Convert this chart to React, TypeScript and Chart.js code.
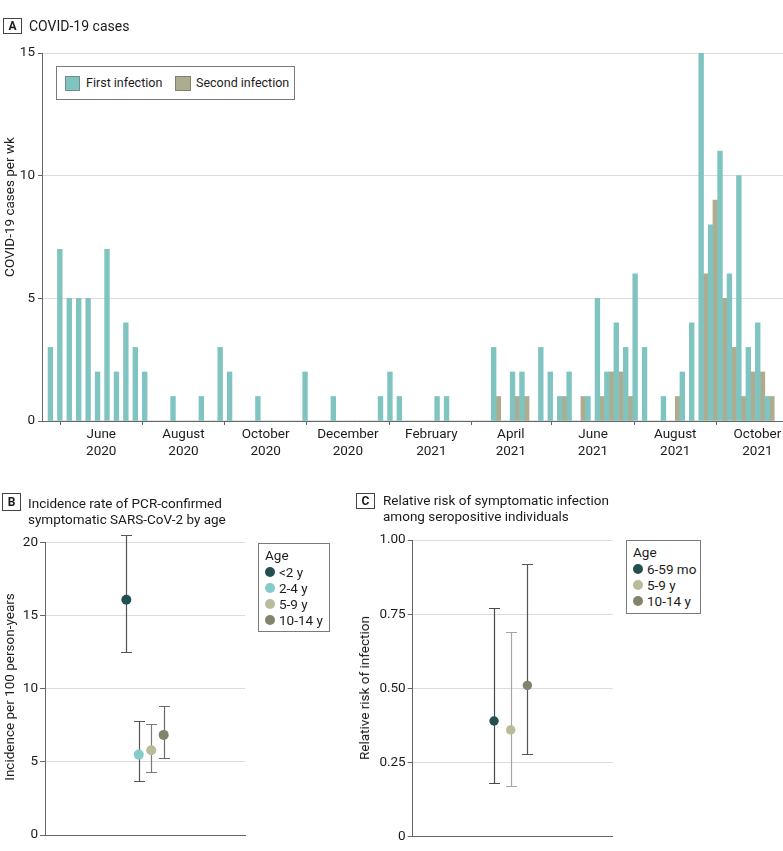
import React, { useEffect, useRef } from 'react';
import { Chart, registerables } from 'chart.js';

Chart.register(...registerables);

// ---------- Panel A data ----------
const firstWeekCenter = '2020-04-26';
const firstInfection = [
  3, 7, 5, 5, 5, 2, 7, 2, 4, 3,
  2, 0, 0, 1, 0, 0, 1, 0, 3, 2,
  0, 0, 1, 0, 0, 0, 0, 2, 0, 0,
  1, 0, 0, 0, 0, 1, 2, 1, 0, 0,
  0, 1, 1, 0, 0, 0, 0, 3, 0, 2,
  2, 0, 3, 2, 1, 2, 0, 1, 5, 2,
  4, 3, 6, 3, 0, 1, 0, 2, 4, 15,
  8, 11, 6, 10, 3, 4, 1,
];
const secondInfection = [
  0, 0, 0, 0, 0, 0, 0, 0, 0, 0,
  0, 0, 0, 0, 0, 0, 0, 0, 0, 0,
  0, 0, 0, 0, 0, 0, 0, 0, 0, 0,
  0, 0, 0, 0, 0, 0, 0, 0, 0, 0,
  0, 0, 0, 0, 0, 0, 0, 1, 0, 1,
  1, 0, 0, 0, 1, 0, 1, 0, 1, 2,
  2, 1, 0, 0, 0, 0, 1, 0, 0, 6,
  9, 5, 3, 1, 2, 2, 1,
];
const monthTickDates = ['2020-06-01', '2020-08-01', '2020-10-01', '2020-12-01', '2021-02-01', '2021-04-01', '2021-06-01', '2021-08-01', '2021-10-01'];
const monthLabels = ['June', 'August', 'October', 'December', 'February', 'April', 'June', 'August', 'October'];
const yearLabels = ['2020', '2020', '2020', '2020', '2021', '2021', '2021', '2021', '2021'];
const axisStartDate = '2020-04-18';
const axisEndDate = '2021-10-20';
const yTicksA = [0, 5, 10, 15];

// ---------- Panel B data ----------
const ageGroupsB = ['<2 y', '2-4 y', '5-9 y', '10-14 y'];
const incidence = [16.1, 5.5, 5.8, 6.85];
const incidenceLow = [12.5, 3.7, 4.3, 5.3];
const incidenceHigh = [20.5, 7.8, 7.6, 8.85];
const yTicksB = [0, 5, 10, 15, 20];

// ---------- Panel C data ----------
const ageGroupsC = ['6-59 mo', '5-9 y', '10-14 y'];
const relRisk = [0.39, 0.36, 0.51];
const relRiskLow = [0.18, 0.17, 0.28];
const relRiskHigh = [0.77, 0.69, 0.92];
const yTicksC = [0, 0.25, 0.5, 0.75, 1];

// ---------- styles ----------
const FONT = 'Roboto, "Liberation Sans", Arial, sans-serif';
const TEAL = '#80c4c2';
const TAN = '#aeac8f';
const AXIS = '#666666';
const GRID = '#dcdcdc';
const TXT = '#1c1c1c';
const colorsB = ['#234f50', '#84cbca', '#bbbb9c', '#83836d'];
const errColorsB = ['#555555', '#555555', '#7a7a7a', '#6a6a6a'];
const colorsC = ['#234f50', '#bbbb9c', '#83836d'];
const errColorsC = ['#4a4a4a', '#a6a6a6', '#555555'];

const DAY = 86400000;
const dayOf = (iso: string) => (Date.parse(iso) - Date.parse('2020-01-01')) / DAY;
const weekDays = firstInfection.map((_, i) => dayOf(firstWeekCenter) + 7 * i);

const errorBarPlugin = {
  id: 'errorBars',
  beforeDatasetsDraw(chart: any) {
    const p = chart.config.options.errorBarsCfg;
    if (!p) return;
    const { ctx } = chart;
    const y = chart.scales.y;
    const meta = chart.getDatasetMeta(0);
    ctx.save();
    ctx.lineWidth = 1.2;
    p.low.forEach((lo: number, i: number) => {
      const px = Math.round(meta.data[i].x) + 0.5;
      const y1 = Math.round(y.getPixelForValue(lo)) + 0.5;
      const y2 = Math.round(y.getPixelForValue(p.high[i])) + 0.5;
      ctx.strokeStyle = p.colors[i];
      ctx.beginPath();
      ctx.moveTo(px, y1);
      ctx.lineTo(px, y2);
      ctx.moveTo(px - p.cap, y1);
      ctx.lineTo(px + p.cap, y1);
      ctx.moveTo(px - p.cap, y2);
      ctx.lineTo(px + p.cap, y2);
      ctx.stroke();
    });
    ctx.restore();
  },
};

const tickFont = { family: FONT, size: 13.5 };

function yAxis(ticks: number[], width: number, tickLen: number, pad: number, fmt?: (v: number) => string) {
  return {
    min: ticks[0],
    max: ticks[ticks.length - 1],
    afterBuildTicks: (s: any) => { s.ticks = ticks.map((v) => ({ value: v })); },
    ticks: { color: TXT, font: tickFont, padding: pad, callback: (v: any) => (fmt ? fmt(v) : String(v)) },
    grid: { color: GRID, lineWidth: 1, tickColor: AXIS, tickLength: tickLen, tickWidth: 1 },
    border: { color: AXIS, width: 1 },
    afterFit: (s: any) => { s.width = width; s.paddingTop = 0; s.paddingBottom = 0; },
  };
}

function dotXAxis(min: number, max: number) {
  return {
    type: 'linear',
    min,
    max,
    ticks: { display: false },
    grid: { display: true, drawOnChartArea: false, drawTicks: false },
    border: { color: AXIS, width: 1 },
    afterFit: (s: any) => { s.height = 0; s.paddingLeft = 0; s.paddingRight = 0; },
  };
}

export default function App() {
  const refA = useRef<HTMLCanvasElement>(null);
  const refB = useRef<HTMLCanvasElement>(null);
  const refC = useRef<HTMLCanvasElement>(null);

  useEffect(() => {
    const tickDays = monthTickDates.map(dayOf);
    const chartA = new Chart(refA.current as HTMLCanvasElement, {
      type: 'bar',
      data: {
        datasets: [
          {
            label: 'First infection',
            data: weekDays.map((x, i) => ({ x, y: firstInfection[i] })),
            backgroundColor: TEAL,
            borderWidth: 0,
            categoryPercentage: 1,
            barPercentage: 1,
          },
          {
            label: 'Second infection',
            data: weekDays.map((x, i) => ({ x, y: secondInfection[i] })),
            backgroundColor: TAN,
            borderWidth: 0,
            categoryPercentage: 1,
            barPercentage: 1,
          },
        ],
      },
      options: {
        animation: false,
        responsive: false,
        events: [],
        layout: { padding: { top: 53, left: 0, right: 0, bottom: 0 } },
        plugins: { legend: { display: false }, tooltip: { enabled: false } },
        scales: {
          x: {
            type: 'linear',
            min: dayOf(axisStartDate),
            max: dayOf(axisEndDate),
            offset: false,
            afterBuildTicks: (s: any) => { s.ticks = tickDays.map((v) => ({ value: v })); },
            ticks: {
              autoSkip: false,
              maxRotation: 0,
              padding: 2,
              color: TXT,
              font: tickFont,
              callback: (_v: any, i: number) => [monthLabels[i], yearLabels[i]],
            },
            grid: { drawOnChartArea: false, tickColor: AXIS, tickLength: 4, tickWidth: 1 },
            border: { color: AXIS, width: 1 },
            afterFit: (s: any) => { s.height = 49; s.paddingLeft = 0; s.paddingRight = 0; },
          } as any,
          y: yAxis(yTicksA, 42, 4, 3) as any,
        },
      },
    });

    const chartB = new Chart(refB.current as HTMLCanvasElement, {
      type: 'scatter',
      data: {
        labels: ageGroupsB,
        datasets: [
          {
            label: 'Age',
            data: incidence.map((y, i) => ({ x: i, y })),
            pointBackgroundColor: colorsB,
            pointBorderWidth: 0,
            pointRadius: 5,
            pointHoverRadius: 5,
          },
        ],
      },
      options: {
        animation: false,
        responsive: false,
        events: [],
        clip: false,
        layout: { padding: { top: 62.7, left: 0, right: 145, bottom: 16 } },
        plugins: { legend: { display: false }, tooltip: { enabled: false } },
        errorBarsCfg: { low: incidenceLow, high: incidenceHigh, colors: errColorsB, cap: 5.5 },
        scales: {
          x: dotXAxis(-6.53, 9.53) as any,
          y: yAxis(yTicksB, 45, 5, 2) as any,
        },
      } as any,
      plugins: [errorBarPlugin],
    });

    const chartC = new Chart(refC.current as HTMLCanvasElement, {
      type: 'scatter',
      data: {
        labels: ageGroupsC,
        datasets: [
          {
            label: 'Age',
            data: relRisk.map((y, i) => ({ x: i, y })),
            pointBackgroundColor: colorsC,
            pointBorderWidth: 0,
            pointRadius: 4.7,
            pointHoverRadius: 4.7,
          },
        ],
      },
      options: {
        animation: false,
        responsive: false,
        events: [],
        clip: false,
        layout: { padding: { top: 60, left: 0, right: 170.3, bottom: 14.3 } },
        plugins: { legend: { display: false }, tooltip: { enabled: false } },
        errorBarsCfg: { low: relRiskLow, high: relRiskHigh, colors: errColorsC, cap: 5.5 },
        scales: {
          x: dotXAxis(-4.88, 7.12) as any,
          y: yAxis(yTicksC, 62.7, 5, 2, (v) => (v === 0 ? '0' : v.toFixed(2))) as any,
        },
      } as any,
      plugins: [errorBarPlugin],
    });

    return () => {
      chartA.destroy();
      chartB.destroy();
      chartC.destroy();
    };
  }, []);

  const abs = (l: number, t: number, extra: any = {}) => ({ position: 'absolute' as const, left: l, top: t, ...extra });
  const panelBox = (letter: string, l: number, t: number, w: number, h: number) => (
    <div style={abs(l, t, { width: w, height: h, border: '1px solid #444', boxSizing: 'border-box', display: 'flex', alignItems: 'center', justifyContent: 'center', fontWeight: 700, fontSize: 12, color: '#1a1a1a' })}>{letter}</div>
  );
  const vTitle = (text: string, cx: number, cy: number) => (
    <div style={abs(cx, cy, { transform: 'translate(-50%, -50%) rotate(-90deg)', whiteSpace: 'nowrap', fontSize: 13.5, color: TXT, lineHeight: '16px' })}>{text}</div>
  );
  const dotLegend = (l: number, t: number, w: number, h: number, items: string[], colors: string[]) => (
    <div style={abs(l, t, { width: w, height: h, border: '1px solid #7a7a7a', boxSizing: 'border-box', background: '#fff' })}>
      <div style={abs(6, 3, { fontSize: 13.5, lineHeight: '16px', color: TXT })}>Age</div>
      {items.map((it, i) => (
        <div key={it} style={abs(6, 20 + 16 * i, { display: 'flex', alignItems: 'center', height: 16, whiteSpace: 'nowrap' })}>
          <span style={{ width: 10, height: 10, borderRadius: '50%', background: colors[i], display: 'inline-block', marginRight: 4 }} />
          <span style={{ fontSize: 13.5, lineHeight: '16px', color: TXT }}>{it}</span>
        </div>
      ))}
    </div>
  );

  return (
    <div style={{ position: 'absolute', left: 0, top: 0, width: 783, height: 851, background: '#fff', fontFamily: FONT, overflow: 'hidden' }}>
      <canvas ref={refA} width={783} height={470} style={abs(0, 0)} />
      <canvas ref={refB} width={390} height={371} style={abs(0, 480)} />
      <canvas ref={refC} width={433} height={371} style={abs(350, 480)} />

      {panelBox('A', 3, 18, 19, 16)}
      <div style={abs(29, 18, { fontSize: 14, lineHeight: '16px', color: '#1a1a1a', whiteSpace: 'nowrap' })}>COVID-19 cases</div>
      {vTitle('COVID-19 cases per wk', 8.7, 206.7)}

      <div style={abs(56, 66, { width: 239, height: 34, border: '1px solid #7a7a7a', boxSizing: 'border-box', background: '#fff' })}>
        <span style={abs(8, 9, { width: 15, height: 15, background: TEAL, border: '1px solid #6f8f8e', boxSizing: 'border-box' })} />
        <span style={abs(29, 8, { fontSize: 12.5, lineHeight: '16px', color: TXT, whiteSpace: 'nowrap' })}>First infection</span>
        <span style={abs(118, 9, { width: 16, height: 15, background: TAN, border: '1px solid #84826b', boxSizing: 'border-box' })} />
        <span style={abs(139, 8, { fontSize: 12.5, lineHeight: '16px', color: TXT, whiteSpace: 'nowrap' })}>Second infection</span>
      </div>

      {panelBox('B', 2, 493, 19, 18)}
      <div style={abs(28, 495, { fontSize: 13.5, lineHeight: '16px', color: '#1a1a1a', whiteSpace: 'nowrap' })}>
        Incidence rate of PCR-confirmed<br />symptomatic SARS-CoV-2 by age
      </div>
      {vTitle('Incidence per 100 person-years', 8.5, 687)}
      {dotLegend(258, 543, 72, 89, ageGroupsB, colorsB)}

      {panelBox('C', 356, 493, 19, 16)}
      <div style={abs(383, 492, { fontSize: 13.5, lineHeight: '16px', color: '#1a1a1a', whiteSpace: 'nowrap' })}>
        Relative risk of symptomatic infection<br />among seropositive individuals
      </div>
      {vTitle('Relative risk of infection', 363.7, 688)}
      {dotLegend(626, 540, 75, 74, ageGroupsC, colorsC)}
    </div>
  );
}
